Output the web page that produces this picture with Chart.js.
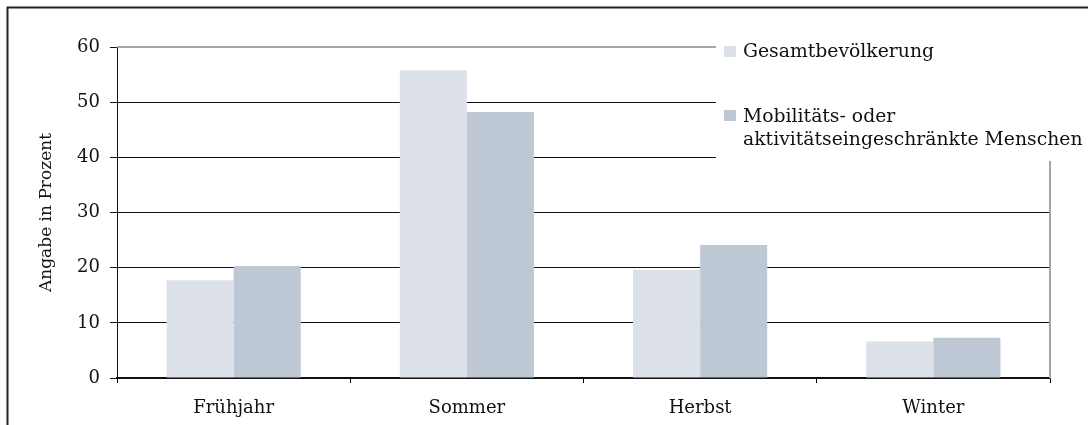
<!DOCTYPE html>
<html>
<head>
<meta charset="utf-8">
<script src="https://cdn.jsdelivr.net/npm/chart.js@4.4.1/dist/chart.umd.min.js"></script>
<style>
html,body{margin:0;padding:0;background:#fff;}
canvas{display:block;}
</style>
</head>
<body>
<canvas id="c" width="1088" height="425"></canvas>
<script>
const categories = ['Frühjahr', 'Sommer', 'Herbst', 'Winter'];
const gesamt = [17.7, 55.8, 19.6, 6.6];
const mobil = [20.3, 48.2, 24.1, 7.3];
const seriesNames = [['Gesamtbevölkerung'], ['Mobilitäts- oder', 'aktivitätseingeschränkte Menschen']];
const yTitle = 'Angabe in Prozent';
const yTicks = [0, 10, 20, 30, 40, 50, 60];
const colors = ['#dce1e9', '#bec8d4'];
const FONT = 'DejaVu Serif';

const framePlugin = {
  id: 'frame',
  beforeDraw(chart) {
    const ctx = chart.ctx;
    ctx.save();
    ctx.fillStyle = '#fff';
    ctx.fillRect(0, 0, chart.width, chart.height);
    ctx.strokeStyle = '#222';
    ctx.lineWidth = 2;
    ctx.beginPath();
    ctx.moveTo(chart.width, 7.5);
    ctx.lineTo(7.5, 7.5);
    ctx.lineTo(7.5, chart.height);
    ctx.stroke();
    ctx.restore();
  },
  beforeDatasetsDraw(chart) {
    const a = chart.chartArea, ctx = chart.ctx;
    ctx.save();
    ctx.strokeStyle = '#a6a6a6';
    ctx.lineWidth = 2;
    ctx.beginPath();
    ctx.moveTo(a.left, a.top);
    ctx.lineTo(a.right, a.top);
    ctx.lineTo(a.right, a.bottom);
    ctx.stroke();
    ctx.restore();
  },
  afterDraw(chart) {
    const ctx = chart.ctx;
    ctx.save();
    ctx.fillStyle = '#fff';
    ctx.fillRect(716, 30, chart.width - 716, 131);
    ctx.font = '18.8px "' + FONT + '"';
    ctx.textBaseline = 'alphabetic';
    ctx.textAlign = 'left';
    const markerY = [46, 110];
    const baseY = [57, 121.5];
    chart.data.datasets.forEach((ds, i) => {
      ctx.fillStyle = ds.backgroundColor;
      ctx.fillRect(724, markerY[i], 12, 11);
      ctx.fillStyle = '#111';
      seriesNames[i].forEach((line, j) => {
        ctx.fillText(line, 743, baseY[i] + j * 23.5);
      });
    });
    ctx.restore();
  }
};

new Chart(document.getElementById('c'), {
  type: 'bar',
  data: {
    labels: categories,
    datasets: [
      { label: seriesNames[0].join(' '), data: gesamt, backgroundColor: colors[0], borderWidth: 0 },
      { label: seriesNames[1].join(' '), data: mobil, backgroundColor: colors[1], borderWidth: 0 }
    ]
  },
  options: {
    responsive: false,
    animation: false,
    layout: { padding: { top: 47, right: 38, left: 0, bottom: 0 } },
    datasets: { bar: { categoryPercentage: 0.575, barPercentage: 1.0 } },
    plugins: { legend: { display: false }, tooltip: { enabled: false } },
    scales: {
      x: {
        grid: { drawOnChartArea: false, drawTicks: true, tickLength: 5, color: '#000', offset: true },
        border: { display: true, color: '#111', width: 1.5 },
        ticks: { font: { family: FONT, size: 18 }, color: '#111', padding: 15 },
        afterFit(s) { s.height = 47; }
      },
      y: {
        min: 0, max: 60,
        afterBuildTicks(s) { s.ticks = yTicks.map(v => ({ value: v })); },
        grid: {
          color: (c) => (c.tick && c.tick.value === 60) ? '#a6a6a6' : '#111',
          tickColor: '#111',
          tickLength: 7,
          lineWidth: 1
        },
        border: { display: true, color: '#111', width: 1 },
        ticks: { font: { family: FONT, size: 18 }, color: '#111', padding: 10 },
        title: { display: true, text: yTitle, font: { family: FONT, size: 17 }, color: '#111', padding: { top: 36, bottom: 0 } },
        afterFit(s) { s.width = 117; }
      }
    }
  },
  plugins: [framePlugin]
});
</script>
</body>
</html>
